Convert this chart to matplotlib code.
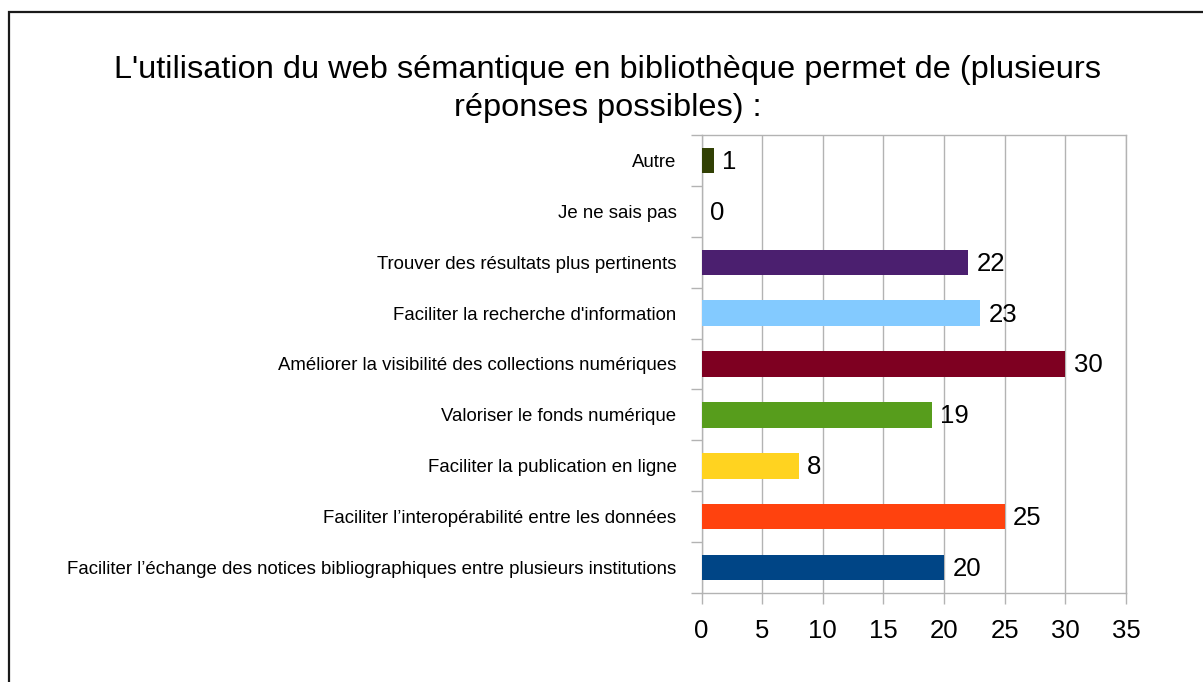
import matplotlib
matplotlib.use("Agg")
import matplotlib.pyplot as plt
from matplotlib.patches import Rectangle

plt.rcParams['font.family'] = ['Liberation Sans', 'DejaVu Sans']

categories = [
    "Faciliter l\u2019\u00e9change des notices bibliographiques entre plusieurs institutions",
    "Faciliter l\u2019interop\u00e9rabilit\u00e9 entre les donn\u00e9es",
    "Faciliter la publication en ligne",
    "Valoriser le fonds num\u00e9rique",
    "Am\u00e9liorer la visibilit\u00e9 des collections num\u00e9riques",
    "Faciliter la recherche d'information",
    "Trouver des r\u00e9sultats plus pertinents",
    "Je ne sais pas",
    "Autre",
]
values = [20, 25, 8, 19, 30, 23, 22, 0, 1]
colors = ["#004586", "#ff420e", "#ffd320", "#579d1c", "#7e0021",
          "#83caff", "#4b1f6f", "#aecf00", "#314004"]
xticks = [0, 5, 10, 15, 20, 25, 30, 35]
title = "L'utilisation du web s\u00e9mantique en biblioth\u00e8que permet de (plusieurs\nr\u00e9ponses possibles) :"

W, H = 1203, 682
fig = plt.figure(figsize=(W / 100, H / 100), dpi=100)
ax = fig.add_axes([701.5 / W, 89 / H, 424.5 / W, 458 / H])

grid_col = "#b3b3b3"
pos = list(range(len(categories)))
ax.barh(pos, values, height=0.5, color=colors, zorder=3)

for p, v in zip(pos, values):
    ax.annotate(str(v), (v, p), xytext=(6, -1), textcoords="offset points",
                ha="left", va="center", fontsize=18.5, color="black", zorder=4)

ax.set_xlim(0, 35)
ax.set_ylim(-0.5, len(categories) - 0.5)
ax.set_xticks(xticks)
ax.set_xticklabels([str(t) for t in xticks], fontsize=18.5)
ax.tick_params(axis="x", length=8, width=1, color=grid_col, pad=11)

# Category labels centred on bars, tick marks on category boundaries
ax.set_yticks(pos)
ax.set_yticklabels(categories, fontsize=13.4)
ax.tick_params(axis="y", length=0, pad=18)
ax.set_yticks([p - 0.5 for p in range(len(categories) + 1)], minor=True)
ax.tick_params(axis="y", which="minor", length=8, width=1, color=grid_col)

ax.xaxis.grid(True, color=grid_col, linewidth=1, zorder=0)
ax.set_axisbelow(True)
for s in ax.spines.values():
    s.set_color(grid_col)
    s.set_linewidth(1)

fig.text(608 / W, 1 - 89 / H, title, ha="center", va="center",
         fontsize=23.4, linespacing=1.32)

fig.patches.append(Rectangle((9 / W, -0.2), 1.5, 1 - 12 / H + 0.2,
                             transform=fig.transFigure, fill=False,
                             edgecolor="#1a1a1a", linewidth=1.6))

fig.savefig("out.png", dpi=100, facecolor="white")
